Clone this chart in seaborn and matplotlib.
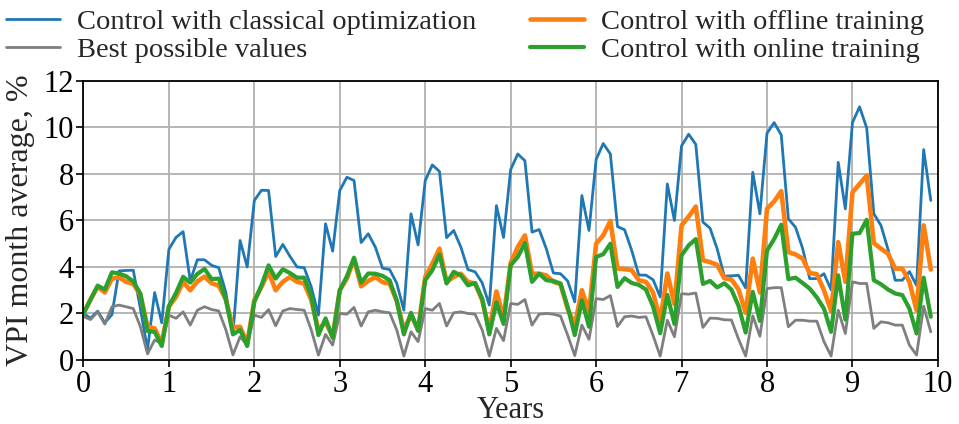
import numpy as np
import pandas as pd
import matplotlib
matplotlib.use("Agg")
import matplotlib.pyplot as plt
import seaborn as sns

# monthly VPI averages, 10 years x 12 months
classical = [
    2.0, 1.8, 2.1, 1.6, 1.95, 3.83, 3.85, 3.86, 2.2, 0.45, 2.9, 1.6,
    4.76, 5.27, 5.52, 3.4, 4.31, 4.31, 4.07, 3.97, 2.9, 1.1, 5.14, 4.0,
    6.86, 7.3, 7.29, 4.45, 4.97, 4.46, 4.0, 3.97, 3.14, 1.93, 5.86, 4.68,
    7.29, 7.86, 7.72, 5.05, 5.43, 4.85, 3.95, 3.89, 3.3, 2.14, 6.29, 4.95,
    7.71, 8.39, 8.11, 5.26, 5.57, 4.86, 3.89, 3.79, 3.32, 2.36, 6.64, 5.27,
    8.19, 8.86, 8.57, 5.5, 5.61, 4.79, 3.74, 3.71, 3.4, 2.5, 7.07, 5.57,
    8.62, 9.31, 8.86, 5.74, 5.6, 4.71, 3.65, 3.65, 3.45, 2.71, 7.57, 6.0,
    9.21, 9.71, 9.27, 5.93, 5.67, 4.78, 3.6, 3.62, 3.64, 3.1, 8.07, 6.29,
    9.75, 10.21, 9.68, 6.07, 5.71, 4.8, 3.5, 3.5, 3.71, 3.02, 8.5, 6.5,
    10.21, 10.89, 9.98, 6.29, 5.79, 4.75, 3.43, 3.43, 3.8, 3.21, 9.05, 6.86,
]
best = [
    1.86, 1.74, 2.07, 1.54, 2.29, 2.36, 2.29, 2.21, 1.43, 0.26, 0.86, 0.71,
    1.93, 1.79, 2.07, 1.5, 2.14, 2.29, 2.17, 2.11, 1.3, 0.22, 1.0, 0.64,
    1.93, 1.83, 2.17, 1.47, 2.11, 2.21, 2.17, 2.14, 1.29, 0.21, 1.1, 0.64,
    2.0, 1.97, 2.26, 1.46, 2.07, 2.14, 2.07, 2.03, 1.29, 0.17, 1.21, 0.79,
    2.21, 2.14, 2.43, 1.46, 2.03, 2.07, 2.0, 1.97, 1.29, 0.17, 1.36, 0.83,
    2.43, 2.39, 2.6, 1.5, 1.97, 2.0, 1.97, 1.89, 1.07, 0.19, 1.5, 0.89,
    2.64, 2.6, 2.77, 1.44, 1.86, 1.89, 1.83, 1.86, 1.05, 0.17, 1.71, 1.0,
    2.85, 2.83, 2.88, 1.4, 1.8, 1.79, 1.73, 1.72, 0.9, 0.17, 1.9, 1.02,
    3.07, 3.11, 3.11, 1.43, 1.71, 1.71, 1.67, 1.67, 0.79, 0.17, 2.14, 1.14,
    3.36, 3.29, 3.29, 1.36, 1.64, 1.6, 1.5, 1.5, 0.64, 0.21, 2.31, 1.21,
]
offline = [
    2.0, 2.6, 3.15, 2.9, 3.5, 3.55, 3.36, 3.27, 2.8, 1.43, 1.36, 0.71,
    2.29, 2.71, 3.36, 3.0, 3.38, 3.58, 3.3, 3.2, 2.6, 1.4, 1.43, 0.71,
    2.57, 3.14, 3.79, 3.0, 3.36, 3.57, 3.36, 3.29, 2.57, 1.29, 1.64, 1.0,
    3.0, 3.5, 4.33, 3.17, 3.4, 3.57, 3.35, 3.28, 2.55, 1.3, 1.93, 1.32,
    3.57, 4.14, 4.79, 3.36, 3.57, 3.71, 3.36, 3.29, 2.57, 1.3, 2.95, 1.82,
    4.17, 4.86, 5.36, 3.71, 3.71, 3.64, 3.36, 3.26, 2.21, 1.5, 3.0, 2.07,
    5.0, 5.36, 5.98, 3.93, 3.91, 3.86, 3.43, 3.36, 2.9, 1.68, 3.72, 2.4,
    5.79, 6.17, 6.6, 4.29, 4.21, 4.09, 3.52, 3.46, 3.03, 2.03, 4.36, 2.9,
    6.5, 6.82, 7.26, 4.64, 4.54, 4.36, 3.74, 3.69, 3.0, 2.11, 5.07, 3.36,
    7.21, 7.57, 7.93, 5.03, 4.79, 4.57, 3.93, 3.93, 3.36, 2.14, 5.79, 3.89,
]
online = [
    2.0, 2.6, 3.2, 3.03, 3.77, 3.72, 3.6, 3.38, 2.85, 1.24, 1.21, 0.6,
    2.32, 2.88, 3.58, 3.33, 3.7, 3.92, 3.48, 3.5, 2.6, 1.1, 1.3, 0.6,
    2.5, 3.21, 4.07, 3.5, 3.9, 3.74, 3.54, 3.54, 2.75, 1.07, 1.79, 0.95,
    3.0, 3.6, 4.4, 3.33, 3.72, 3.71, 3.62, 3.43, 2.55, 1.1, 2.03, 1.25,
    3.43, 3.86, 4.54, 3.29, 3.79, 3.64, 3.21, 3.31, 2.64, 1.1, 2.48, 1.55,
    4.07, 4.43, 5.03, 3.36, 3.71, 3.43, 3.4, 3.29, 2.29, 1.07, 2.57, 1.43,
    4.43, 4.55, 5.0, 3.14, 3.52, 3.31, 3.23, 3.03, 2.3, 1.15, 2.8, 1.55,
    4.5, 4.93, 5.2, 3.27, 3.4, 3.12, 3.3, 3.03, 2.33, 1.18, 2.93, 1.68,
    4.7, 5.2, 5.82, 3.48, 3.54, 3.31, 3.07, 2.69, 2.21, 1.21, 3.64, 1.74,
    5.43, 5.46, 6.03, 3.43, 3.26, 3.03, 2.86, 2.79, 2.21, 1.14, 3.54, 1.86,
]

years = np.arange(len(classical)) / 12

df = pd.DataFrame({
    "years": years,
    "classical": classical,
    "best": best,
    "offline": offline,
    "online": online,
})

sns.set_theme(style="ticks")
plt.rcParams["font.family"] = ["Liberation Serif", "DejaVu Serif"]

fig, ax = plt.subplots(figsize=(9.59, 4.24), dpi=100)
fig.subplots_adjust(left=0.087, right=0.978, bottom=0.151, top=0.809)

sns.lineplot(data=df, x="years", y="classical", ax=ax, color="#1f77b4",
             lw=2.0, label="Control with classical optimization")
sns.lineplot(data=df, x="years", y="best", ax=ax, color="#7f7f7f",
             lw=2.0, label="Best possible values")
sns.lineplot(data=df, x="years", y="offline", ax=ax, color="#ff7f0e",
             lw=3.3, label="Control with offline training")
sns.lineplot(data=df, x="years", y="online", ax=ax, color="#2ca02c",
             lw=3.0, label="Control with online training")

ax.set_xlim(0, 10)
ax.set_ylim(0, 12)
ax.set_xticks(range(0, 11))
ax.set_yticks(range(0, 13, 2))
ax.grid(True, color="#b0b0b0", lw=1.3)
ax.tick_params(labelsize=22, direction="out", length=5, width=1.2, colors="black", pad=2)
for s in ax.spines.values():
    s.set_color("black")
    s.set_linewidth(1.3)
ax.set_xlabel("Years", fontsize=22, labelpad=-2)
ax.set_ylabel("VPI month average, %", fontsize=23, labelpad=6)

handles, labels = ax.get_legend_handles_labels()
ax.get_legend().remove()
fig.legend(handles, labels, loc="upper center", bbox_to_anchor=(0.485, 1.04),
           ncol=2, frameon=False, fontsize=20.5, handlelength=1.9,
           handletextpad=0.6, columnspacing=1.9, labelspacing=0.1)

plt.savefig("out.png", dpi=100)
